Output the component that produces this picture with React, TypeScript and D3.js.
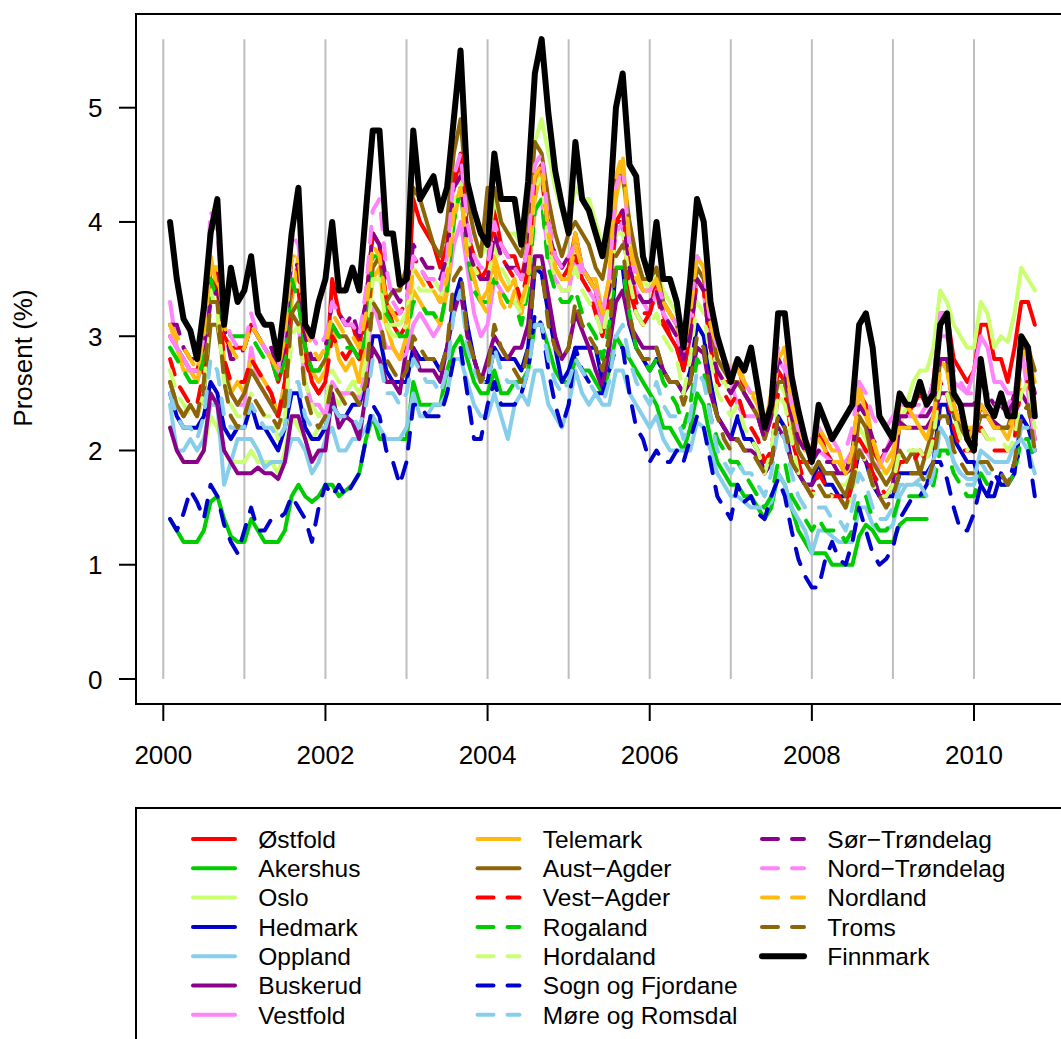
import React from "react";
import * as d3 from "d3";

// ---- axis / tick values ----
const START_YEAR = 2000;
const xTickYears = [2000, 2002, 2004, 2006, 2008, 2010];
const gridYears = [2000, 2001, 2002, 2003, 2004, 2005, 2006, 2007, 2008, 2009, 2010];
const yTickValues = [0, 1, 2, 3, 4, 5];

// ---- monthly values, Jan 2000 .. Sep 2010 ----
const ostfold = [
  3.0,2.9,2.8,2.7,2.7,2.9,3.6,3.6,3.0,2.9,2.9,2.9,
  3.1,3.0,2.9,2.8,2.6,2.8,3.4,3.4,2.9,2.6,2.5,2.6,
  3.5,3.2,3.1,3.1,2.9,3.3,3.9,3.8,3.3,3.1,3.0,3.1,
  4.2,4.0,3.9,3.8,3.6,3.8,4.4,4.5,3.9,3.6,3.5,3.6,
  4.1,3.8,3.7,3.7,3.5,3.8,4.4,4.4,3.9,3.6,3.5,3.6,
  3.9,3.6,3.5,3.4,3.1,3.4,4.0,4.0,3.4,3.2,3.1,3.2,
  3.5,3.2,3.0,2.9,2.7,3.0,3.5,3.4,2.9,2.7,2.6,2.6,
  2.8,2.5,2.4,2.3,2.1,2.3,2.7,2.6,2.1,1.9,1.9,1.9,
  2.2,2.0,1.9,1.9,1.8,2.0,2.5,2.4,2.0,1.9,2.0,2.1,
  2.3,2.3,2.4,2.5,2.4,2.6,3.2,3.2,2.8,2.7,2.6,2.7,
  3.1,3.1,2.8,2.8,2.6,2.9,3.3,3.3,3.1,
];
const akershus = [
  1.4,1.3,1.2,1.2,1.2,1.3,1.55,1.6,1.4,1.25,1.2,1.2,
  1.4,1.3,1.2,1.2,1.2,1.3,1.6,1.7,1.6,1.55,1.6,1.7,
  1.7,1.6,1.65,1.7,1.8,2.1,2.3,2.1,2.1,2.1,2.1,2.1,
  2.6,2.4,2.4,2.4,2.4,2.7,2.9,3.0,2.8,2.6,2.5,2.5,
  2.7,2.5,2.5,2.6,2.6,2.7,3.1,3.1,2.9,2.7,2.6,2.6,
  2.8,2.7,2.7,2.6,2.5,2.7,3.0,2.9,2.8,2.7,2.6,2.5,
  2.4,2.2,2.2,2.1,2.0,2.2,2.5,2.4,2.1,1.9,1.8,1.7,
  1.7,1.6,1.6,1.5,1.4,1.5,1.8,1.7,1.5,1.3,1.2,1.1,
  1.1,1.1,1.0,1.0,1.0,1.0,1.25,1.35,1.3,1.2,1.2,1.2,
  1.35,1.4,1.4,1.4,1.4,
];
const oslo = [
  2.2,2.0,1.9,1.9,1.9,2.0,2.3,2.2,2.0,1.9,1.9,1.9,
  2.0,1.9,1.9,1.9,1.8,2.0,2.3,2.2,2.1,2.1,2.2,2.3,
  2.5,2.4,2.5,2.6,2.6,2.9,3.3,3.2,3.1,3.1,3.1,3.2,
  3.6,3.5,3.5,3.5,3.4,3.6,4.1,4.3,3.9,3.7,3.7,3.8,
  4.2,4.0,3.9,3.9,3.8,4.0,4.7,4.9,4.6,4.3,4.1,4.0,
  4.3,4.2,4.2,4.0,3.8,3.9,4.4,4.4,3.9,3.6,3.5,3.4,
  3.6,3.4,3.3,3.2,2.9,3.1,3.5,3.4,3.0,2.7,2.6,2.5,
  2.6,2.5,2.4,2.3,2.1,2.3,2.6,2.5,2.2,2.0,1.9,1.8,
  1.9,1.8,1.8,1.7,1.7,1.8,2.2,2.1,1.9,1.8,1.8,1.9,
  2.2,2.4,2.6,2.7,2.7,2.9,3.4,3.3,3.1,3.0,2.9,2.9,
  3.3,3.2,2.9,3.0,2.95,3.2,3.6,3.5,3.4,
];
const hedmark = [
  2.5,2.3,2.2,2.2,2.2,2.3,2.6,2.5,2.2,2.1,2.2,2.2,
  2.4,2.2,2.2,2.1,2.0,2.2,2.5,2.5,2.2,2.1,2.1,2.2,
  2.4,2.3,2.3,2.4,2.4,2.6,3.0,3.0,2.7,2.6,2.6,2.6,
  2.9,2.8,2.8,2.8,2.7,2.9,3.3,3.5,3.1,2.8,2.6,2.6,
  2.9,2.8,2.8,2.8,2.7,2.9,3.6,3.55,3.2,2.9,2.6,2.7,
  2.9,2.9,2.9,2.9,2.6,2.9,3.6,3.6,3.1,2.9,2.8,2.7,
  2.8,2.7,2.6,2.6,2.5,2.7,3.1,3.0,2.6,2.3,2.2,2.1,
  2.3,2.1,2.1,2.0,1.8,1.9,2.3,2.2,1.9,1.8,1.7,1.7,
  1.9,1.7,1.7,1.6,1.6,1.7,2.0,1.9,1.7,1.6,1.6,1.6,
  1.8,1.8,1.8,1.8,1.8,1.9,2.4,2.4,2.1,2.0,1.9,1.9,
  1.7,1.6,1.6,1.8,1.7,1.8,2.3,2.2,2.0,
];
const oppland = [
  2.4,2.0,2.0,2.1,2.0,2.1,2.4,2.4,1.7,1.9,2.1,2.1,
  2.1,2.0,1.85,1.9,1.9,1.9,2.1,2.1,2.0,1.8,1.9,2.1,
  2.2,2.0,2.0,2.1,2.1,2.2,2.3,2.2,2.1,2.1,2.1,2.2,
  2.5,2.3,2.3,2.4,2.4,2.5,2.8,2.8,2.6,2.4,2.3,2.3,
  2.5,2.3,2.1,2.4,2.5,2.4,2.7,2.7,2.4,2.3,2.2,2.4,
  2.7,2.5,2.4,2.5,2.4,2.4,2.7,2.7,2.5,2.4,2.3,2.2,
  2.3,2.1,2.0,2.0,2.0,2.0,2.25,2.2,2.0,1.8,1.7,1.6,
  1.6,1.55,1.5,1.5,1.5,1.55,1.8,1.7,1.5,1.4,1.3,1.1,
  1.3,1.3,1.25,1.2,1.2,1.2,1.5,1.5,1.35,1.3,1.3,1.35,
  1.6,1.7,1.7,1.75,1.75,1.9,2.2,2.1,1.9,1.8,1.75,1.75,
  2.0,1.95,1.9,1.9,1.9,2.05,2.1,2.0,1.8,
];
const buskerud = [
  2.2,2.0,1.9,1.9,1.9,2.0,2.5,2.4,2.0,1.9,1.8,1.8,
  1.8,1.85,1.8,1.8,1.75,1.9,2.3,2.3,2.1,1.9,2.0,2.0,
  2.5,2.2,2.3,2.25,2.1,2.5,2.9,2.8,2.6,2.6,2.5,2.9,
  2.9,2.7,2.7,2.7,2.6,2.9,3.2,3.4,3.0,2.8,2.6,2.8,
  3.0,2.9,2.8,2.9,2.9,3.1,3.7,3.7,3.35,3.0,2.8,2.9,
  3.2,3.05,2.9,2.7,2.55,2.9,3.3,3.4,3.1,3.0,2.9,2.9,
  2.9,2.7,2.6,2.6,2.5,2.6,2.9,2.85,2.5,2.3,2.2,2.1,
  2.1,2.0,2.0,1.95,1.8,1.9,2.2,2.1,1.9,1.8,1.7,1.7,
  1.8,1.8,1.8,1.8,1.8,1.85,2.0,1.9,1.8,1.6,1.6,1.7,
  2.25,2.2,2.2,2.2,2.2,2.3,2.5,2.5,2.4,2.2,2.2,2.1,
  2.4,2.3,2.25,2.2,2.2,2.3,2.5,2.4,2.1,
];
const vestfold = [
  3.3,2.9,2.8,2.7,2.6,2.8,3.3,3.3,2.7,2.5,2.4,2.4,
  2.9,2.6,2.5,2.4,2.3,2.6,3.2,3.1,2.6,2.4,2.4,2.3,
  2.6,2.5,2.5,2.5,2.45,2.7,3.3,3.1,2.9,2.9,2.8,2.85,
  3.1,3.2,3.1,3.0,3.1,3.4,3.8,4.0,3.6,3.2,3.0,3.1,
  3.5,3.4,3.3,3.3,3.2,3.5,4.1,4.2,3.7,3.5,3.4,3.4,
  3.7,3.5,3.4,3.3,3.1,3.4,3.9,4.0,3.6,3.4,3.3,3.2,
  3.4,3.2,3.1,3.0,2.8,3.1,3.5,3.4,3.0,2.8,2.7,2.6,
  2.4,2.3,2.3,2.3,2.1,2.3,2.8,2.7,2.3,2.1,2.0,2.0,
  2.0,1.95,1.9,1.9,1.9,2.0,2.0,2.0,1.9,1.85,2.0,2.15,
  2.3,2.3,2.3,2.3,2.4,2.6,3.2,3.2,2.6,2.55,2.5,2.7,
  3.0,2.9,2.6,2.6,2.5,2.5,2.9,2.5,2.1,
];
const telemark = [
  3.1,2.9,2.7,2.7,2.6,2.9,3.7,3.4,2.8,2.5,2.6,2.5,
  2.8,2.7,2.6,2.5,2.3,2.6,3.3,3.7,2.9,2.7,2.6,2.7,
  3.1,2.8,2.7,2.8,2.6,3.0,3.5,3.6,3.1,2.9,2.8,3.0,
  3.4,3.3,3.2,3.2,3.1,3.4,4.0,4.3,3.9,3.5,3.3,3.4,
  3.7,3.5,3.4,3.5,3.2,3.5,4.2,4.5,4.0,3.6,3.5,3.5,
  3.9,3.6,3.5,3.5,3.2,3.5,4.2,4.5,4.0,3.6,3.4,3.4,
  3.5,3.3,3.2,3.1,2.9,3.2,3.7,3.6,3.1,2.8,2.7,2.7,
  2.8,2.6,2.5,2.5,2.2,2.5,2.8,2.9,2.5,2.2,2.0,2.0,
  2.2,2.1,2.0,2.0,1.8,1.9,2.6,2.3,2.1,1.9,1.8,1.9,
  2.4,2.4,2.3,2.2,2.1,2.3,2.8,2.7,2.4,2.2,2.1,2.2,
  2.4,2.3,2.2,2.2,2.1,2.3,2.9,2.8,2.6,
];
const austAgder = [
  2.6,2.4,2.3,2.4,2.3,2.5,3.1,3.1,2.7,2.5,2.4,2.5,
  2.7,2.6,2.5,2.4,2.3,2.5,3.2,3.3,2.9,2.7,2.7,2.8,
  3.1,3.0,3.0,2.9,2.8,3.0,3.6,3.7,3.3,3.4,3.4,3.6,
  4.3,4.2,4.0,3.8,3.7,4.0,4.6,4.9,4.2,3.9,3.7,4.3,
  4.3,4.0,3.9,3.8,3.7,4.0,4.7,4.6,4.2,3.9,3.7,3.9,
  4.0,3.9,3.8,3.6,3.5,3.8,4.4,4.4,4.0,3.7,3.5,3.5,
  3.6,3.3,3.2,3.1,2.9,3.2,3.6,3.5,3.1,2.8,2.7,2.6,
  2.6,2.5,2.4,2.3,2.1,2.3,2.6,2.6,2.3,2.0,1.9,1.8,
  1.9,1.8,1.8,1.7,1.6,1.8,2.3,2.2,1.9,1.8,1.7,1.8,
  2.0,1.9,2.0,1.8,2.0,2.2,2.8,2.8,2.3,2.2,2.1,2.1,
  2.3,2.3,2.2,2.2,2.2,2.4,2.9,2.9,2.7,
];
const vestAgder = [
  2.8,2.6,2.5,2.4,2.4,2.7,3.5,3.4,2.8,2.6,2.6,2.6,
  2.8,2.7,2.6,2.5,2.3,2.6,3.5,3.6,2.8,2.6,2.5,2.6,
  3.0,2.9,2.8,2.9,2.8,3.1,3.9,3.8,3.3,3.2,3.2,3.3,
  3.7,3.6,3.5,3.4,3.3,3.6,4.3,4.6,3.9,3.7,3.5,3.6,
  3.9,3.7,3.6,3.5,3.3,3.6,4.4,4.5,4.0,3.7,3.6,3.6,
  3.7,3.5,3.4,3.2,3.0,3.3,4.0,4.1,3.6,3.3,3.2,3.2,
  3.4,3.1,3.0,2.9,2.7,3.0,3.5,3.4,2.9,2.6,2.5,2.4,
  2.5,2.3,2.2,2.1,1.9,2.0,2.5,2.5,2.1,1.9,1.7,1.6,
  1.8,1.7,1.6,1.6,1.5,1.7,2.1,2.0,1.8,1.7,1.6,1.7,
  1.9,1.9,1.9,2.0,1.9,2.1,2.6,2.5,2.2,2.0,2.0,2.0,
  2.2,2.1,2.0,2.0,2.0,2.1,2.6,2.6,2.4,
];
const rogaland = [
  2.9,2.8,2.7,2.6,2.6,2.8,3.5,3.3,3.1,3.0,3.0,3.0,
  3.0,2.9,2.8,2.8,2.6,2.8,3.5,3.3,2.9,2.7,2.7,2.8,
  3.1,3.0,2.9,2.9,2.8,3.0,3.7,3.7,3.2,3.1,3.0,3.0,
  3.3,3.3,3.2,3.2,3.1,3.4,4.0,4.3,3.7,3.4,3.3,3.3,
  3.5,3.4,3.3,3.3,3.1,3.4,4.1,4.2,3.6,3.4,3.3,3.3,
  3.4,3.2,3.1,3.0,2.8,3.1,3.6,3.6,3.2,2.9,2.8,2.7,
  2.8,2.6,2.5,2.4,2.2,2.4,2.8,2.7,2.3,2.1,2.0,1.9,
  1.9,1.8,1.7,1.6,1.5,1.6,1.9,1.9,1.6,1.5,1.4,1.3,
  1.4,1.3,1.3,1.3,1.2,1.3,1.6,1.6,1.4,1.3,1.3,1.4,
  1.6,1.6,1.6,1.6,1.6,1.7,2.0,2.0,1.8,1.7,1.6,1.6,
  1.8,1.7,1.7,1.7,1.7,1.8,2.1,2.1,1.9,
];
const hordaland = [
  2.7,2.5,2.4,2.3,2.3,2.5,3.4,3.2,2.6,2.4,2.3,2.3,
  2.5,2.4,2.3,2.3,2.1,2.3,3.0,3.1,2.6,2.4,2.3,2.4,
  2.7,2.6,2.6,2.6,2.5,2.8,3.5,3.5,3.1,3.0,3.0,3.1,
  3.5,3.4,3.4,3.4,3.3,3.6,4.2,4.4,3.9,3.6,3.5,3.5,
  3.8,3.6,3.5,3.3,3.2,3.5,4.3,4.4,3.8,3.5,3.4,3.4,
  3.6,3.4,3.3,3.2,3.0,3.3,3.9,3.9,3.5,3.2,3.1,3.1,
  3.2,3.0,2.9,2.8,2.5,2.8,3.3,3.2,2.8,2.5,2.4,2.3,
  2.4,2.2,2.1,2.0,1.8,2.0,2.5,2.4,2.1,1.8,1.7,1.6,
  1.7,1.6,1.6,1.6,1.5,1.6,2.0,1.9,1.7,1.6,1.6,1.7,
  2.0,2.0,2.0,2.0,1.9,2.1,2.6,2.5,2.3,2.1,2.0,2.1,
  2.2,2.1,2.1,2.1,2.0,2.1,2.5,2.6,2.2,
];
const sognFjordane = [
  1.4,1.3,1.45,1.65,1.55,1.4,1.7,1.6,1.35,1.2,1.1,1.3,
  1.5,1.3,1.3,1.4,1.4,1.45,1.6,1.5,1.4,1.2,1.5,1.7,
  1.6,1.7,1.6,1.7,1.8,2.1,2.4,2.3,2.0,1.9,1.7,1.9,
  2.4,2.4,2.3,2.3,2.3,2.5,2.8,2.9,2.5,2.1,2.1,2.4,
  2.6,2.4,2.4,2.4,2.5,2.7,3.2,3.1,2.7,2.4,2.2,2.4,
  2.9,2.7,2.6,2.5,2.5,2.7,2.9,2.9,2.5,2.2,2.1,1.9,
  2.0,1.9,1.9,2.0,1.9,2.1,2.3,2.2,1.9,1.6,1.5,1.4,
  1.7,1.55,1.6,1.45,1.4,1.6,1.75,1.6,1.3,1.05,0.9,0.8,
  0.8,1.05,1.2,1.05,1.0,1.2,1.5,1.3,1.1,1.0,1.05,1.15,
  1.4,1.5,1.6,1.6,1.7,1.9,1.9,1.75,1.5,1.3,1.3,1.45,
  1.7,1.6,1.8,1.7,1.7,1.9,2.0,2.0,1.6,
];
const moreRomsdal = [
  2.5,2.3,2.2,2.2,2.1,2.3,2.8,2.7,2.3,2.2,2.2,2.2,
  2.4,2.3,2.2,2.2,2.1,2.2,2.6,2.6,2.3,2.2,2.2,2.2,
  2.4,2.3,2.3,2.3,2.2,2.4,2.8,2.8,2.5,2.5,2.4,2.5,
  2.8,2.7,2.6,2.6,2.5,2.7,3.2,3.4,2.9,2.7,2.6,2.6,
  2.9,2.7,2.6,2.6,2.5,2.7,3.1,3.1,2.8,2.6,2.5,2.6,
  2.8,2.7,2.6,2.5,2.4,2.6,3.0,3.1,2.8,2.6,2.5,2.4,
  2.6,2.4,2.3,2.3,2.1,2.3,2.7,2.6,2.3,2.0,1.9,1.8,
  1.9,1.8,1.8,1.7,1.6,1.8,2.2,2.1,1.8,1.6,1.5,1.5,
  1.5,1.5,1.4,1.4,1.3,1.5,1.8,1.7,1.5,1.4,1.4,1.5,
  1.7,1.7,1.7,1.7,1.6,1.8,2.2,2.1,1.9,1.8,1.7,1.7,
  1.9,1.8,1.8,1.8,1.7,1.9,2.2,2.2,2.0,
];
const sorTrondelag = [
  3.1,3.1,2.9,2.8,2.8,2.9,3.3,3.4,3.1,2.8,2.8,2.9,
  3.1,3.0,2.9,2.9,2.7,2.9,3.7,3.6,3.0,2.8,2.8,2.9,
  3.3,3.2,3.1,3.2,3.0,3.3,3.9,3.8,3.5,3.4,3.3,3.4,
  3.8,3.7,3.6,3.6,3.5,3.7,4.3,4.4,3.8,3.6,3.5,3.5,
  3.9,3.7,3.6,3.6,3.5,3.7,4.4,4.5,3.9,3.7,3.6,3.7,
  3.8,3.6,3.5,3.4,3.2,3.4,4.0,4.1,3.6,3.4,3.3,3.3,
  3.4,3.2,3.1,3.0,2.8,3.0,3.5,3.4,2.9,2.7,2.6,2.5,
  2.6,2.5,2.4,2.3,2.1,2.3,2.8,2.7,2.3,2.1,2.0,1.9,
  2.0,1.9,1.9,1.8,1.8,2.0,2.4,2.3,2.1,2.0,2.0,2.1,
  2.3,2.3,2.3,2.3,2.3,2.4,2.8,2.8,2.5,2.4,2.4,2.4,
  2.6,2.5,2.4,2.4,2.3,2.5,2.8,2.8,2.5,
];
const nordTrondelag = [
  3.0,2.9,2.8,2.7,2.7,3.0,4.1,3.9,3.2,3.0,2.9,2.9,
  3.2,3.0,2.9,2.8,2.7,3.1,3.9,3.8,3.2,3.0,2.9,3.0,
  3.3,3.2,3.1,3.1,3.0,3.4,4.1,4.2,3.6,3.3,3.2,3.3,
  3.7,3.6,3.5,3.5,3.4,3.7,4.4,4.6,4.0,3.7,3.6,3.6,
  4.0,3.8,3.7,3.6,3.5,3.8,4.5,4.6,4.0,3.7,3.6,3.7,
  3.8,3.6,3.5,3.4,3.2,3.5,4.3,4.5,3.8,3.5,3.4,3.4,
  3.5,3.3,3.2,3.1,2.9,3.2,3.7,3.6,3.1,2.9,2.8,2.7,
  2.7,2.6,2.5,2.4,2.2,2.4,2.9,2.8,2.4,2.2,2.1,2.1,
  2.2,2.1,2.1,2.0,2.0,2.2,2.6,2.5,2.3,2.2,2.2,2.3,
  2.4,2.4,2.4,2.4,2.4,2.6,3.0,3.0,2.7,2.6,2.5,2.5,
  2.6,2.5,2.4,2.4,2.4,2.5,2.8,2.7,2.4,
];
const nordland = [
  3.1,3.0,2.9,2.8,2.7,3.0,3.6,3.6,3.1,2.9,2.8,2.9,
  3.1,3.0,2.9,2.8,2.7,3.0,3.7,3.7,3.1,2.9,2.8,2.9,
  3.2,3.1,3.0,3.0,2.9,3.2,3.8,3.7,3.3,3.2,3.1,3.1,
  3.6,3.5,3.4,3.4,3.3,3.5,4.1,4.3,3.7,3.5,3.3,3.2,
  3.6,3.3,3.2,3.4,3.3,3.5,4.4,4.5,3.9,3.6,3.5,3.5,
  3.8,3.6,3.5,3.4,3.2,3.5,4.4,4.6,3.8,3.5,3.4,3.4,
  3.5,3.3,3.2,3.1,2.9,3.2,3.7,3.6,3.1,2.9,2.8,2.7,
  2.7,2.6,2.5,2.4,2.2,2.5,2.9,2.9,2.4,2.2,2.1,2.0,
  2.1,2.0,1.9,1.9,1.8,2.0,2.5,2.4,2.1,1.9,1.9,2.0,
  2.2,2.2,2.2,2.2,2.1,2.3,2.7,2.7,2.4,2.2,2.2,2.2,
  2.3,2.3,2.2,2.2,2.2,2.3,2.7,2.7,2.4,
];
const troms = [
  2.6,2.4,2.3,2.4,2.3,2.6,3.3,3.3,2.6,2.3,2.2,2.3,
  2.5,2.4,2.3,2.3,2.2,2.4,3.2,3.1,2.5,2.3,2.2,2.3,
  2.6,2.5,2.4,2.5,2.4,2.6,3.3,3.2,2.8,2.7,2.6,2.7,
  3.0,2.9,2.8,2.8,2.7,2.9,3.5,3.6,3.0,2.8,2.6,2.7,
  3.1,2.9,2.8,2.7,2.6,2.9,3.6,3.6,3.1,2.9,2.8,2.9,
  3.3,3.1,3.0,2.9,2.7,3.0,3.7,3.8,3.2,2.9,2.8,2.8,
  2.9,2.7,2.6,2.6,2.4,2.6,3.0,2.9,2.5,2.3,2.1,2.0,
  2.1,2.0,2.0,1.9,1.8,1.9,2.3,2.2,1.9,1.8,1.7,1.6,
  1.7,1.6,1.6,1.6,1.5,1.7,2.0,1.9,1.7,1.6,1.5,1.6,
  1.8,1.8,1.8,1.8,1.7,1.9,2.3,2.3,2.0,1.9,1.8,1.8,
  1.9,1.9,1.8,1.8,1.7,1.9,2.3,2.4,2.0,
];
const finnmark = [
  4.0,3.5,3.15,3.05,2.8,3.25,3.9,4.2,3.1,3.6,3.3,3.4,
  3.7,3.2,3.1,3.1,2.8,3.3,3.9,4.3,3.1,3.0,3.3,3.5,
  4.0,3.4,3.4,3.6,3.4,4.1,4.8,4.8,3.9,3.9,3.45,3.5,
  4.8,4.2,4.3,4.4,4.1,4.3,4.9,5.5,4.35,4.1,3.9,3.8,
  4.6,4.2,4.2,4.2,3.8,4.35,5.3,5.6,4.95,4.45,4.15,3.9,
  4.7,4.2,4.1,3.9,3.7,4.05,5.0,5.3,4.5,4.4,3.7,3.5,
  4.0,3.5,3.5,3.3,2.9,3.5,4.2,4.0,3.3,3.0,2.8,2.6,
  2.8,2.7,2.9,2.55,2.2,2.4,3.2,3.2,2.65,2.35,2.1,1.9,
  2.4,2.25,2.1,2.2,2.3,2.4,3.1,3.2,2.9,2.3,2.2,2.1,
  2.5,2.4,2.4,2.6,2.4,2.5,3.1,3.2,2.5,2.4,2.1,2.0,
  2.8,2.4,2.3,2.5,2.3,2.3,3.0,2.9,2.3,
];

const countyNames = [
  "Østfold", "Akershus", "Oslo", "Hedmark", "Oppland", "Buskerud", "Vestfold",
  "Telemark", "Aust\u2212Agder", "Vest\u2212Agder", "Rogaland", "Hordaland", "Sogn og Fjordane", "Møre og Romsdal",
  "Sør\u2212Trøndelag", "Nord\u2212Trøndelag", "Nordland", "Troms", "Finnmark",
];
const countyValues = [
  ostfold, akershus, oslo, hedmark, oppland, buskerud, vestfold,
  telemark, austAgder, vestAgder, rogaland, hordaland, sognFjordane, moreRomsdal,
  sorTrondelag, nordTrondelag, nordland, troms, finnmark,
];
const countyColors = [
  "#FF0000", "#00CD00", "#CAFF70", "#0000CD", "#87CEEB", "#8B008B", "#FF83FA",
  "#FFB90F", "#8B6508", "#FF0000", "#00CD00", "#CAFF70", "#0000CD", "#87CEEB",
  "#8B008B", "#FF83FA", "#FFB90F", "#8B6508", "#000000",
];
const countyDashed = [
  false, false, false, false, false, false, false,
  false, false, true, true, true, true, true,
  true, true, true, true, false,
];

const FONT = "'Liberation Sans', Arial, Helvetica, sans-serif";

export default function App() {
  const W = 1061, H = 1039;
  const x = d3.scaleLinear().domain([2000, 2010]).range([163.3, 974]);
  const y = d3.scaleLinear().domain([0, 5]).range([679, 107.7]);

  const series = countyNames.map((name, k) => ({
    name,
    values: countyValues[k],
    color: countyColors[k],
    dashed: countyDashed[k],
    width: name === "Finnmark" ? 6 : 4,
  }));

  const line = d3
    .line<number>()
    .x((_, i) => x(START_YEAR + (i + 1) / 12))
    .y((v) => y(v));

  const maxV = d3.max(series.flatMap((s) => s.values)) as number;

  const plotLeft = 136, plotTop = 14, plotBottom = 704;
  const legTop = 808;
  const colLineX = [193, 477.5, 762];
  const colTextX = [258.3, 542.8, 827.3];
  const rowY0 = 839, rowDy = 29.3;
  const colOf = (i: number) => (i < 7 ? 0 : i < 14 ? 1 : 2);
  const rowOf = (i: number) => (i < 7 ? i : i < 14 ? i - 7 : i - 14);

  return (
    <div style={{ position: "absolute", left: 0, top: 0, width: W, height: H, background: "#fff" }}>
      <svg width={W} height={H} viewBox={`0 0 ${W} ${H}`} style={{ display: "block" }} fontFamily={FONT}>
        <rect x={0} y={0} width={W} height={H} fill="#fff" />
        {/* year grid segments */}
        {gridYears.map((yr) => (
          <line key={yr} x1={x(yr)} x2={x(yr)} y1={y(0)} y2={y(maxV)} stroke="#BEBEBE" strokeWidth={2} />
        ))}
        {/* series */}
        <g fill="none" strokeLinejoin="round" strokeLinecap="round">
          {series.map((s) => (
            <path
              key={s.name}
              d={line(s.values) || ""}
              stroke={s.color}
              strokeWidth={s.width}
              strokeDasharray={s.dashed ? "16 14" : undefined}
            />
          ))}
        </g>
        {/* plot box */}
        <rect x={plotLeft} y={plotTop} width={W + 20 - plotLeft} height={plotBottom - plotTop} fill="none" stroke="#000" strokeWidth={2} />
        {/* y axis */}
        {yTickValues.map((v) => (
          <g key={v}>
            <line x1={119} x2={plotLeft} y1={y(v)} y2={y(v)} stroke="#000" strokeWidth={2} />
            <text x={102.5} y={y(v) + 9.5} textAnchor="end" fontSize={26} fill="#000">{v}</text>
          </g>
        ))}
        {/* x axis */}
        {xTickYears.map((yr) => (
          <g key={yr}>
            <line x1={x(yr)} x2={x(yr)} y1={plotBottom} y2={721} stroke="#000" strokeWidth={2} />
            <text x={x(yr)} y={763.5} textAnchor="middle" fontSize={26} fill="#000">{yr}</text>
          </g>
        ))}
        <text transform={`translate(32,358) rotate(-90)`} textAnchor="middle" fontSize={26} fill="#000">Prosent (%)</text>
        {/* legend */}
        <rect x={plotLeft} y={legTop} width={W + 20 - plotLeft} height={H + 20 - legTop} fill="none" stroke="#000" strokeWidth={2} />
        {series.map((s, i) => {
          const c = colOf(i), r = rowOf(i);
          const ly = rowY0 + r * rowDy;
          return (
            <g key={s.name}>
              <line
                x1={colLineX[c]} x2={colLineX[c] + 42} y1={ly} y2={ly}
                stroke={s.color} strokeWidth={s.width} strokeLinecap="round"
                strokeDasharray={s.dashed ? "16 14" : undefined}
              />
              <text x={colTextX[c]} y={ly + 8.8} fontSize={24.5} fill="#000">{s.name}</text>
            </g>
          );
        })}
      </svg>
    </div>
  );
}
